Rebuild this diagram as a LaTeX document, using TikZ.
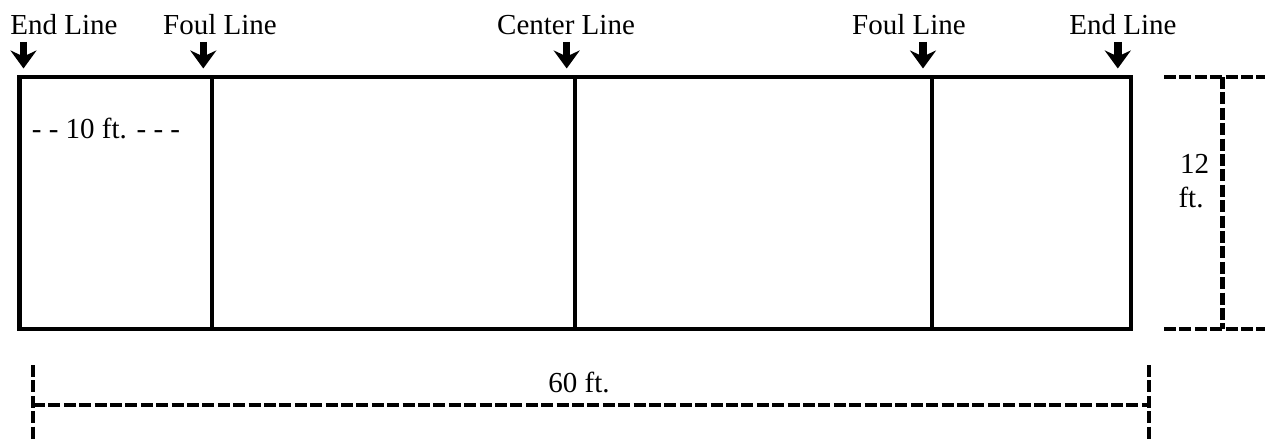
\documentclass[tikz,border=0pt]{standalone}
\usepackage{fontspec}
\setmainfont{Liberation Serif}
\usetikzlibrary{arrows.meta}
\tikzset{
  x=1pt,y=-1pt,
  lbl/.style={inner sep=0pt,anchor=base,font=\fontsize{29}{33}\selectfont},
  court/.style={line width=4.6pt,line join=miter},
  dim/.style={line width=4.4pt,dash pattern=on 12pt off 3.4pt},
  pointer/.style={line width=7.5pt,-{Stealth[length=18pt,width=26pt,inset=6pt]}},
}
\begin{document}
\begin{tikzpicture}
\useasboundingbox (0,0) rectangle (1265,441);
% court
\coordinate (tl) at (19.7,77);
\node[draw,court,inner sep=0pt,outer sep=0pt,minimum width=1111.3pt,minimum height=252pt,anchor=north west] (court) at (tl) {};
\coordinate (f1t) at (212,77); \coordinate (f1b) at (212,329);
\coordinate (ct) at (575,77); \coordinate (cb) at (575,329);
\coordinate (f2t) at (932,77); \coordinate (f2b) at (932,329);
\draw[court] (f1t) -- (f1b);
\draw[court] (ct) -- (cb);
\draw[court] (f2t) -- (f2b);
% labels
\node[lbl] (l1) at (64,35) {End Line};
\node[lbl] (l2) at (220,35) {Foul Line};
\node[lbl] (l3) at (566,35) {Center Line};
\node[lbl] (l4) at (909,35) {Foul Line};
\node[lbl] (l5) at (1123,35) {End Line};
\node[lbl] (ten) at (106,139) {- - 10 ft. - - -};
\node[lbl] (tw) at (1194.5,173) {12};
\node[lbl] (ft) at (1191,207) {ft.};
\node[lbl] (sixty) at (579,392) {60 ft.};
% pointers
\foreach \n/\x in {1/23.5,2/203.3,3/566.7,4/923,5/1117.8}{
  \coordinate (a\n) at (\x,42); \coordinate (b\n) at (\x,68.5);
  \draw[pointer] (a\n) -- (b\n);
}
% dimension lines
\coordinate (h1) at (1164,77); \coordinate (h2) at (1265,77);
\coordinate (h3) at (1164,329); \coordinate (h4) at (1265,329);
\coordinate (v1) at (1222.5,77); \coordinate (v2) at (1222.5,329);
\draw[dim] (h1) -- (h2);
\draw[dim] (h3) -- (h4);
\draw[dim] (v1) -- (v2);
\coordinate (w1) at (33,365); \coordinate (w2) at (33,441);
\coordinate (w3) at (1149,365); \coordinate (w4) at (1149,441);
\coordinate (m1) at (33,405); \coordinate (m2) at (1149,405);
\draw[dim] (w1) -- (w2);
\draw[dim] (w3) -- (w4);
\draw[dim] (m1) -- (m2);
\end{tikzpicture}
\end{document}
